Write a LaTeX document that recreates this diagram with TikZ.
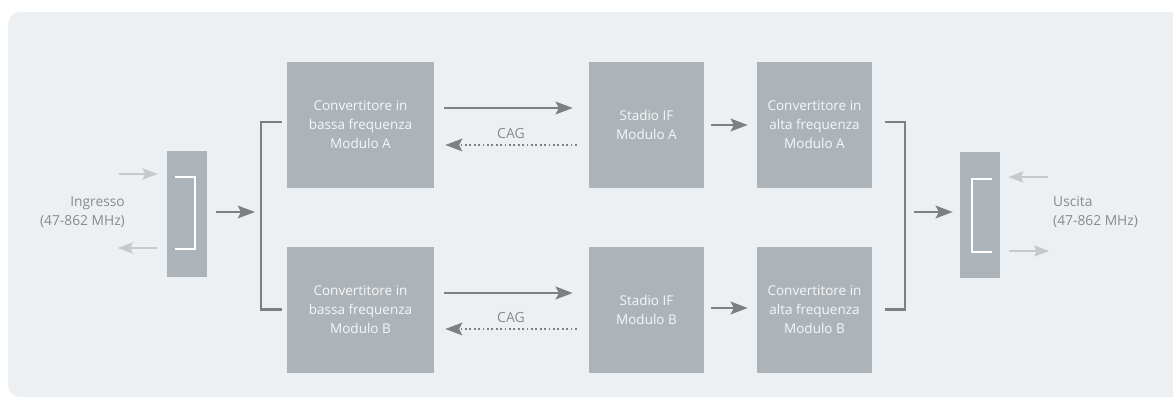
\documentclass[tikz,border=0pt]{standalone}
\usepackage{fontspec}
\setmainfont{Open Sans}
\usetikzlibrary{arrows.meta,calc}

\definecolor{panel}{HTML}{EDF0F3}
\definecolor{blockfill}{HTML}{ADB4B9}
\definecolor{blocktext}{HTML}{F6F7F8}
\definecolor{darkline}{HTML}{7D8083}
\definecolor{lightline}{HTML}{C6C9CB}
\definecolor{labeltext}{HTML}{868B90}

\tikzset{
  block/.style={fill=blockfill, draw=none, inner sep=0pt, align=center,
    text=blocktext, font=\fontsize{13.5}{19}\selectfont},
  wide/.style={block, minimum width=147pt, minimum height=126pt},
  narrow/.style={block, minimum width=115pt, minimum height=126pt},
  coupler/.style={block, minimum width=40pt, minimum height=126pt},
  flow/.style={draw=darkline, line width=2.8pt,
    -{Stealth[length=17pt,width=12.5pt,inset=3pt]}},
  feedback/.style={draw=darkline, line width=2.6pt, dash pattern=on 1.8pt off 2.6pt,
    -{Stealth[length=17pt,width=12.5pt,inset=3pt]}},
  port/.style={draw=lightline, line width=2.6pt,
    -{Stealth[length=15pt,width=11pt,inset=2.5pt]}},
  busline/.style={draw=darkline, line width=2.6pt},
  inner/.style={draw=white, line width=2pt},
  sidelabel/.style={text=labeltext, font=\fontsize{13.8}{19}\selectfont, inner sep=0pt},
  cag/.style={text=labeltext, font=\fontsize{14}{14}\selectfont, inner sep=0pt},
}

\begin{document}
\begin{tikzpicture}[x=1pt,y=-1pt]
\useasboundingbox (0,0) rectangle (1173,399);
\clip (0,0) rectangle (1173,399);
\fill[panel, rounded corners=12pt] (8,12) rectangle (1200,397);

% input and output couplers
\node[coupler] (inbox) at (187,214) {};
\node[coupler] (outbox) at (980,214.5) {};

% module A chain
\node[wide]   (LA)  at (360.5,125) {Convertitore in\\bassa frequenza\\Modulo A};
\node[narrow] (IFA) at (646.5,125) {Stadio IF\\Modulo A};
\node[narrow] (HA)  at (814.5,125) {Convertitore in\\alta frequenza\\Modulo A};

% module B chain
\node[wide]   (LB)  at (360.5,309.5) {Convertitore in\\bassa frequenza\\Modulo B};
\node[narrow] (IFB) at (646.5,309.5) {Stadio IF\\Modulo B};
\node[narrow] (HB)  at (814.5,309.5) {Convertitore in\\alta frequenza\\Modulo B};

% white brackets drawn inside the couplers
\draw[inner] ($(inbox.center)+(-12,-37)$) -- ($(inbox.center)+(8,-37)$)
  -- ($(inbox.center)+(8,35)$) -- ($(inbox.center)+(-12,35)$);
\draw[inner] ($(outbox.center)+(12,-35.5)$) -- ($(outbox.center)+(-8,-35.5)$)
  -- ($(outbox.center)+(-8,37.5)$) -- ($(outbox.center)+(12,37.5)$);

% outside ports
\draw[port] ($(inbox.west)+(-48,-40)$) -- ($(inbox.west)+(-9,-40)$);
\draw[port] ($(inbox.west)+(-10,34)$) -- ($(inbox.west)+(-49,34)$);
\draw[port] ($(outbox.east)+(48,-37.5)$) -- ($(outbox.east)+(8,-37.5)$);
\draw[port] ($(outbox.east)+(9,36.5)$) -- ($(outbox.east)+(49,36.5)$);

\node[sidelabel, anchor=east, align=right] (inlabel) at (125,212.5) {Ingresso\\(47-862 MHz)};
\node[sidelabel, anchor=west, align=left] (outlabel) at (1053,212.5) {Uscita\\(47-862 MHz)};

% splitter and combiner buses
\coordinate (jl) at (261,212);
\coordinate (jr) at (905,212);
\draw[busline] ([xshift=-5pt,yshift=3pt]LA.west) -| (jl) |- ([xshift=-5pt]LB.west);
\draw[busline] ([xshift=13pt,yshift=3pt]HA.east) -| (jr) |- ([xshift=13pt]HB.east);
\draw[flow] ([xshift=9pt]inbox.east |- jl) -- ([xshift=-6pt]jl);
\draw[flow] ([xshift=9pt]jr) -- ([xshift=-7pt]outbox.west |- jr);

% signal path and AGC feedback, module A
\draw[flow] ([xshift=10pt,yshift=17pt]LA.east) -- ([xshift=-16pt,yshift=17pt]IFA.west);
\draw[feedback] ([xshift=-12pt,yshift=-20pt]IFA.west) -- node[cag, above=5pt] {CAG} ([xshift=11pt,yshift=-20pt]LA.east);
\draw[flow] ([xshift=7pt]IFA.east) -- ([xshift=-9pt]HA.west);

% signal path and AGC feedback, module B
\draw[flow] ([xshift=10pt,yshift=16.5pt]LB.east) -- ([xshift=-16pt,yshift=16.5pt]IFB.west);
\draw[feedback] ([xshift=-12pt,yshift=-19.5pt]IFB.west) -- node[cag, above=5pt] {CAG} ([xshift=11pt,yshift=-19.5pt]LB.east);
\draw[flow] ([xshift=7pt,yshift=1.5pt]IFB.east) -- ([xshift=-9pt,yshift=1.5pt]HB.west);
\end{tikzpicture}
\end{document}
